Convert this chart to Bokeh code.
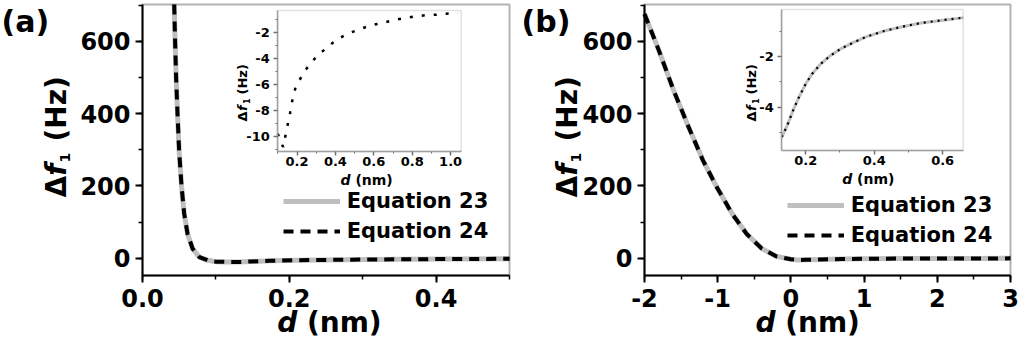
from bokeh.plotting import figure
from bokeh.models import (Range1d, LinearAxis, SingleIntervalTicker, Label,
                          Legend, LegendItem, BoxAnnotation, PrintfTickFormatter)
from bokeh.layouts import row
from bokeh.embed import file_html
from bokeh.resources import INLINE
import math

# ---------------- data ----------------
# panel (a) main curve: d (nm), delta f1 (Hz)
d_a = [0.0432, 0.0444, 0.0458, 0.0477, 0.0499, 0.0532, 0.0568, 0.0614, 0.0683,
       0.0774, 0.089, 0.100, 0.114, 0.128, 0.149, 0.174, 0.212, 0.277, 0.350,
       0.422, 0.500]
f_a = [702, 601, 500, 399, 297, 199, 123, 67, 26, 3, -6, -9.7, -10.4, -10.8,
       -9.2, -7.3, -5.7, -4.25, -3.2, -2.4, -1.75]

# panel (a) inset
di_a = [0.100, 0.114, 0.128, 0.149, 0.162, 0.174, 0.191, 0.212, 0.243, 0.277,
        0.311, 0.350, 0.385, 0.422, 0.465, 0.511, 0.559, 0.610, 0.662, 0.713,
        0.764, 0.815, 0.867, 0.926, 0.977, 1.037]
fi_a = [-9.74, -10.38, -10.77, -9.23, -8.34, -7.32, -6.29, -5.66, -4.89, -4.25,
        -3.69, -3.23, -2.80, -2.41, -2.08, -1.82, -1.57, -1.36, -1.19, -1.00,
        -0.88, -0.75, -0.67, -0.62, -0.54, -0.50]

# panel (b) main curve
d_b = [-2.0, -1.8, -1.6, -1.4, -1.2, -1.0, -0.8, -0.6, -0.4, -0.2, 0.0, 0.1,
       0.2, 0.4, 0.7, 1.0, 1.5, 2.0, 2.5, 3.0]
f_b = [676, 573, 463, 364, 270, 192, 122, 66, 27, 5, -3, -5, -4.5, -3.5, -2.5,
       -1.8, -1.2, -0.9, -0.7, -0.6]

# panel (b) inset
di_b = [0.130, 0.146, 0.163, 0.180, 0.200, 0.219, 0.244, 0.273, 0.302, 0.341,
        0.380, 0.429, 0.478, 0.537, 0.595, 0.661]
fi_b = [-5.18, -4.72, -4.13, -3.61, -3.08, -2.68, -2.29, -1.96, -1.70, -1.44,
        -1.21, -1.00, -0.84, -0.68, -0.58, -0.47]

series_names = ["Equation 23", "Equation 24"]
panel_tags = ["(a)", "(b)"]
main_y_range = (-48, 702)

FONT = "DejaVu Sans"
GRAY = "#bfbfbf"
FRAME_GRAY = "#a0a0a0"
W, H = 512, 356
BASE_SHIFT = 0.4  # measured offset of the rendered text baseline, in em


def lab(p, cx, cy, text, size, style="bold", angle=0.0):
    """Place text with its baseline start at canvas pixel (cx, cy)."""
    s = BASE_SHIFT * size
    if angle:
        x, y = cx - s, H - cy
    else:
        x, y = cx, H - (cy - s)
    p.add_layout(Label(x=x, y=y, x_units="screen", y_units="screen",
                       text=text, text_font=FONT, text_font_style=style,
                       text_font_size=f"{size}px", text_color="black",
                       angle=angle, angle_units="rad",
                       text_baseline="alphabetic", text_align="left"))


def full_range(v0, v1, p0, p1, total, flip=False):
    """Range over the whole canvas so that [v0, v1] lands on pixels [p0, p1]."""
    if flip:  # vertical: pixel rows counted from the top
        p0, p1 = total - p1, total - p0
    u = (v1 - v0) / (p1 - p0)
    return Range1d(v0 - p0 * u, v1 + (total - p1) * u)


def style_axis(ax, size, color, tick_color, lw, tout, mout):
    ax.axis_line_color = color
    ax.axis_line_width = lw
    ax.major_tick_line_color = tick_color
    ax.minor_tick_line_color = tick_color
    ax.major_tick_line_width = lw
    ax.minor_tick_line_width = max(1, lw - 0.5)
    ax.major_tick_in = 0
    ax.major_tick_out = tout
    ax.minor_tick_in = 0
    ax.minor_tick_out = mout
    ax.major_label_text_font = FONT
    ax.major_label_text_font_style = "bold"
    ax.major_label_text_font_size = f"{size}px"
    ax.major_label_text_color = "black"


def build(tag, xr, xint, xfmt, box, d, f, di, fi, irx, iry, ibox, ixfmt,
          gray_inset, leg_loc, ylab_x, xlab_x, iylab_x, ixlab_x, ixlab_y, tag_x):
    (x0, x1), (y0, y1) = xr, main_y_range
    bl, br, bt, bb = box
    p = figure(width=W, height=H,
               x_range=full_range(x0, x1, bl, br, W),
               y_range=full_range(y0, y1, bt, bb, H, flip=True),
               output_backend="svg", toolbar_location=None,
               x_axis_location=None, y_axis_location=None, min_border=0)
    p.xgrid.visible = False
    p.ygrid.visible = False
    p.outline_line_color = None
    p.background_fill_color = "white"
    p.border_fill_color = "white"

    # main axes and frame
    xax = LinearAxis(fixed_location=y0, bounds=(x0, x1),
                     ticker=SingleIntervalTicker(interval=xint, num_minor_ticks=2),
                     formatter=PrintfTickFormatter(format=xfmt))
    yax = LinearAxis(fixed_location=x0, bounds=(y0, y1),
                     ticker=SingleIntervalTicker(interval=200, num_minor_ticks=2),
                     formatter=PrintfTickFormatter(format="%d"))
    style_axis(xax, 24, "black", "black", 2, 7, 4)
    style_axis(yax, 24, "black", "black", 2, 7, 4)
    xax.major_label_standoff = 6
    yax.major_label_standoff = 5
    p.add_layout(xax, "below")
    p.add_layout(yax, "left")
    p.add_layout(BoxAnnotation(left=x0, right=x1, bottom=y0, top=y1,
                               fill_alpha=0, line_color="black", line_width=2))

    g = p.line(d, f, line_color=GRAY, line_width=5)
    k = p.line(d, f, line_color="black", line_width=4, line_dash="10 7")

    # inset
    (ix0, ix1), (iy0, iy1) = irx, iry
    bx0, bx1, by0, by1 = ibox
    p.extra_x_ranges = {"ix": full_range(ix0, ix1, bx0, bx1, W)}
    p.extra_y_ranges = {"iy": full_range(iy0, iy1, by0, by1, H, flip=True)}
    bax = LinearAxis(x_range_name="ix", y_range_name="iy", fixed_location=iy0,
                     bounds=(ix0, ix1),
                     ticker=SingleIntervalTicker(interval=0.2, num_minor_ticks=2),
                     formatter=PrintfTickFormatter(format=ixfmt))
    lax = LinearAxis(x_range_name="ix", y_range_name="iy", fixed_location=ix0,
                     bounds=(iy0, iy1),
                     ticker=SingleIntervalTicker(interval=2, num_minor_ticks=2),
                     formatter=PrintfTickFormatter(format="%d"))
    style_axis(bax, 13, FRAME_GRAY, "#707070", 1.5, 4, 2)
    style_axis(lax, 13, FRAME_GRAY, "#707070", 1.5, 4, 2)
    bax.major_label_standoff = 1
    lax.major_label_standoff = 4
    p.add_layout(bax, "below")
    p.add_layout(lax, "left")
    p.add_layout(BoxAnnotation(left=ix0, right=ix1, bottom=iy0, top=iy1,
                               x_range_name="ix", y_range_name="iy",
                               fill_alpha=0, line_color=FRAME_GRAY, line_width=1.5))
    if gray_inset:
        p.line(di, fi, x_range_name="ix", y_range_name="iy",
               line_color=GRAY, line_width=3)
        p.line(di, fi, x_range_name="ix", y_range_name="iy",
               line_color="black", line_width=2.2, line_dash="2 5")
    else:
        p.line(di, fi, x_range_name="ix", y_range_name="iy",
               line_color="black", line_width=2.5, line_dash="3 9")

    legend = Legend(items=[LegendItem(label=series_names[0], renderers=[g]),
                           LegendItem(label=series_names[1], renderers=[k])],
                    location=leg_loc, padding=0, margin=0, spacing=6,
                    glyph_width=57, glyph_height=24, label_height=24,
                    label_standoff=7, label_text_font=FONT,
                    label_text_font_style="bold", label_text_font_size="21px",
                    label_text_color="black",
                    background_fill_alpha=0, border_line_alpha=0)
    p.add_layout(legend)

    up = math.pi / 2
    # main y label
    lab(p, ylab_x, 197, "\u0394", 28, "bold", up)
    lab(p, ylab_x, 175.3, "f", 28, "bold italic", up)
    lab(p, ylab_x + 3, 162, "1", 14, "bold", up)
    lab(p, ylab_x, 141, "(Hz)", 28, "bold", up)
    # main x label
    lab(p, xlab_x, 333, "d", 28, "bold italic")
    lab(p, xlab_x + 29.7, 333, "(nm)", 28, "bold")
    # inset y label
    lab(p, iylab_x, 121, "\u0394", 13, "bold", up)
    lab(p, iylab_x, 110.5, "f", 13, "bold italic", up)
    lab(p, iylab_x + 2.5, 103.5, "1", 8, "bold", up)
    lab(p, iylab_x, 94, "(Hz)", 13, "bold", up)
    # inset x label
    lab(p, ixlab_x, ixlab_y, "d", 14, "bold italic")
    lab(p, ixlab_x + 14.9, ixlab_y, "(nm)", 14, "bold")
    # panel tag
    lab(p, tag_x, 33, tag, 30, "bold")
    return p


pa = build(panel_tags[0], (0.0, 0.5), 0.2, "%.1f", (142, 509, 4, 275),
           d_a, f_a, di_a, fi_a, (0.10, 1.055), (-11.12, -0.3),
           (277.3, 460.7, 10, 151), "%.1f", False,
           (282.7, 113.1), 67, 276.7, 246.7, 340, 185, 1)
pb = build(panel_tags[1], (-2.0, 3.0), 1, "%d", (132, 498, 4, 275),
           d_b, f_b, di_b, fi_b, (0.13, 0.66), (-5.71, -0.15),
           (269.3, 450.7, 9, 150), "%.1f", True,
           (274.7, 108.8), 66, 243, 244, 329.7, 184, 9)

layout = row(pa, pb)
open("out.html", "w").write(file_html(layout, INLINE))
